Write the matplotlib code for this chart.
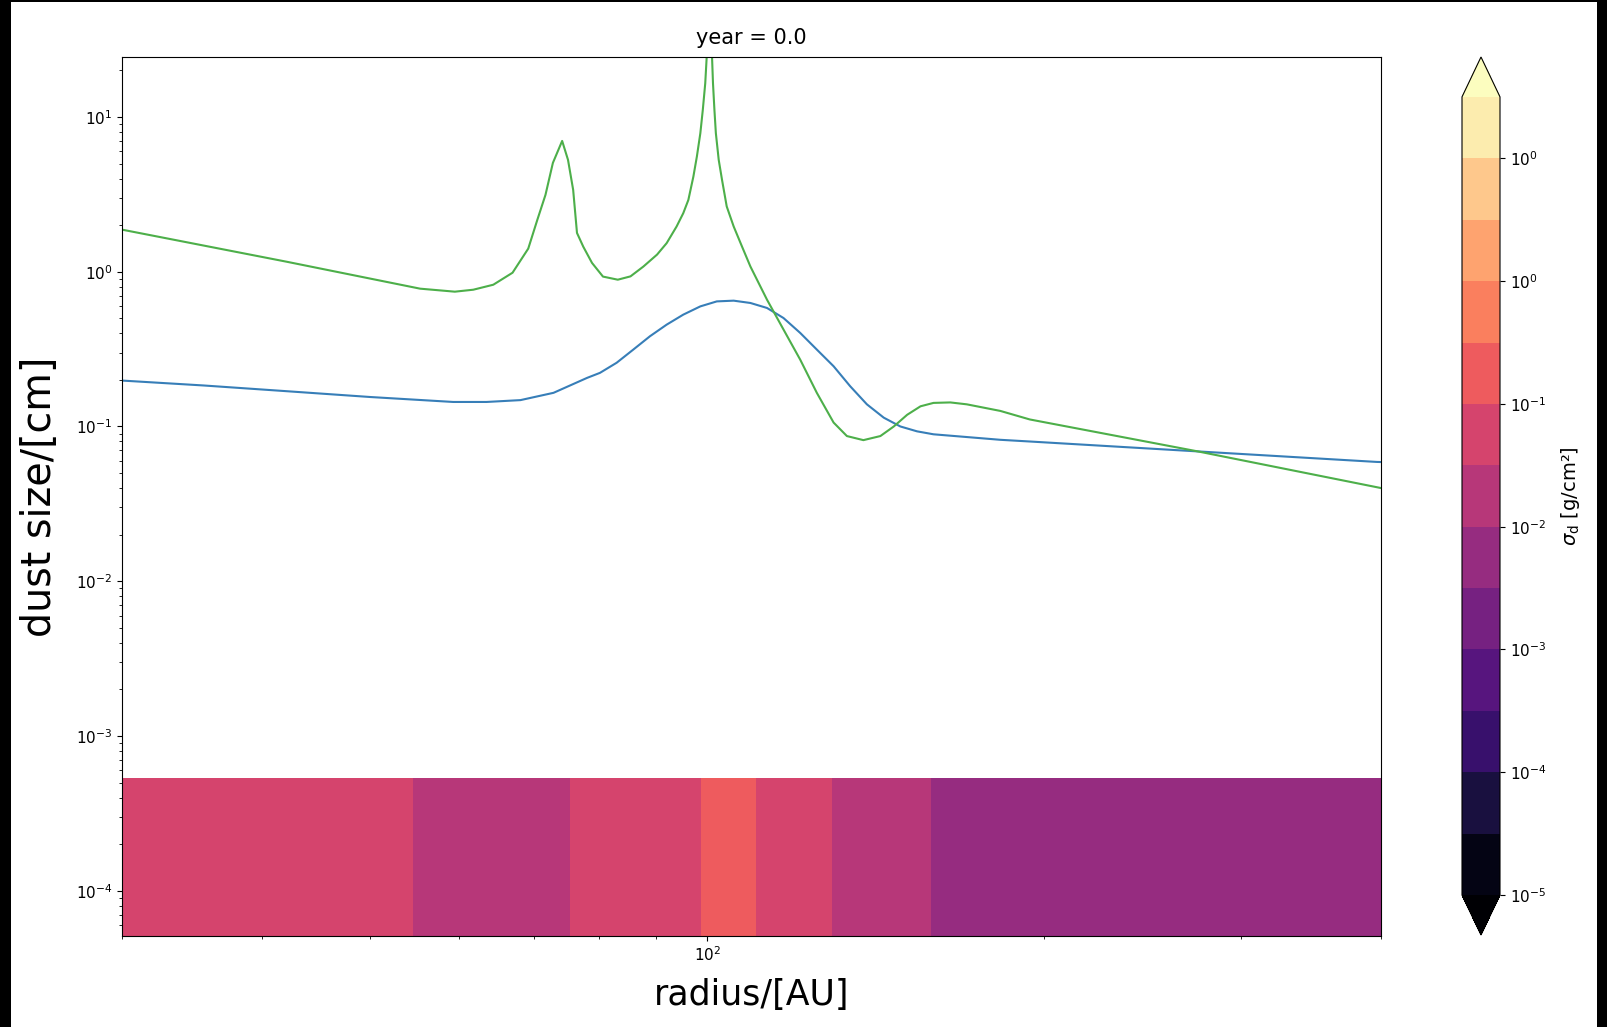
import numpy as np
import matplotlib
matplotlib.use("Agg")
import matplotlib.pyplot as plt
from matplotlib.patches import Rectangle

# ---------------- data ----------------
green_radius = [30, 42.1, 55.4, 59.5, 61.8, 64.4, 67.0, 69.2, 70.5, 71.7, 72.8, 74.2,
                75.1, 75.9, 76.5, 77.5, 78.9, 80.7, 83.2, 85.4, 87.7, 90.2, 92.0, 93.9,
                95.2, 96.2, 97.2, 97.9, 98.6, 99.1, 99.6, 99.9, 100.45, 101.0, 101.2,
                101.5, 101.8, 102.4, 103.1, 104.1, 105.6, 107.4, 109.3, 113.1, 117.0,
                121.1, 125.3, 129.7, 133.3, 137.9, 142.8, 146.8, 150.9, 155.1, 159.3,
                164.9, 170.6, 182.8, 194.2, 274.4, 396.6, 400]
green_size = [1.87, 1.16, 0.777, 0.743, 0.765, 0.824, 0.985, 1.41, 2.16, 3.14, 5.05, 7.0,
              5.28, 3.38, 1.78, 1.45, 1.14, 0.93, 0.888, 0.933, 1.08, 1.29, 1.53, 1.96,
              2.39, 2.91, 4.12, 5.55, 7.85, 11.1, 16.5, 24.5, 80.0, 24.5, 16.5,
              11.1, 7.85, 5.28, 3.92, 2.64, 1.96, 1.46, 1.08, 0.659, 0.423,
              0.270, 0.165, 0.106, 0.0867, 0.0816, 0.0867, 0.100, 0.119, 0.135, 0.142,
              0.143, 0.139, 0.126, 0.111, 0.069, 0.0405, 0.040]

blue_radius = [30, 35.5, 42.1, 50.0, 59.3, 63.5, 68.1, 72.9, 78.1, 80.2, 83.0, 85.9,
               88.9, 92.0, 95.2, 98.6, 102.0, 105.6, 109.3, 113.1, 117.0, 121.1, 125.3,
               129.7, 134.2, 138.9, 143.8, 148.8, 154.0, 159.3, 182.8, 194, 274.4,
               396.6, 400]
blue_size = [0.198, 0.184, 0.169, 0.155, 0.144, 0.144, 0.148, 0.165, 0.206, 0.222, 0.258,
             0.314, 0.383, 0.455, 0.528, 0.597, 0.643, 0.650, 0.628, 0.583, 0.502, 0.402,
             0.314, 0.245, 0.182, 0.139, 0.114, 0.100, 0.093, 0.089, 0.082, 0.080, 0.069,
             0.059, 0.0589]

sigma_radius = [30, 42, 54.6, 65, 75.4, 87, 98.8, 104.5, 110.6, 120, 129.3, 144, 158.6, 250, 400]
log_sigma_dust = [-1.25, -1.35, -1.5, -1.7, -1.5, -1.25, -1.0, -0.8, -1.0, -1.25, -1.5,
                  -1.75, -2.0, -2.2, -2.35]
size_grid = [1e-5, 5.36e-4]

levels = np.linspace(-5, 1.5, 14)
cbar_ticks = [-5, -4, -3, -2, -1, 0, 1]
cbar_ticklabels = [r'$10^{-5}$', r'$10^{-4}$', r'$10^{-3}$', r'$10^{-2}$',
                   r'$10^{-1}$', r'$10^{0}$', r'$10^{0}$']

W, H = 1608, 1027
fig = plt.figure(figsize=(W / 100, H / 100), dpi=100, facecolor='black')
fig.patches.append(Rectangle((11 / W, 0), (1597 - 11) / W, (H - 2) / H,
                             transform=fig.transFigure, facecolor='white',
                             edgecolor='none', zorder=-10))

ax = fig.add_axes([122 / W, (H - 936) / H, (1381 - 122) / W, (936 - 57) / H])
R, A = np.meshgrid(sigma_radius, size_grid)
Z = np.tile(log_sigma_dust, (len(size_grid), 1))
cs = ax.contourf(R, A, Z, levels=levels, cmap='magma', extend='both')

ax.plot(blue_radius, blue_size, color='#377eb8', lw=1.5)
ax.plot(green_radius, green_size, color='#4daf4a', lw=1.5)

ax.set_xscale('log')
ax.set_yscale('log')
ax.set_xlim(30, 400)
ax.set_ylim(5.1e-5, 24.4)
ax.tick_params(axis='both', which='major', labelsize=11)
ax.set_title('year = 0.0', fontsize=15, pad=9.5)
ax.set_xlabel('radius/[AU]', fontsize=25, labelpad=10)
ax.set_ylabel('dust size/[cm]', fontsize=28.5, labelpad=11)

cax = fig.add_axes([1462 / W, (H - 935) / H, 38 / W, (935 - 57) / H])
cb = fig.colorbar(cs, cax=cax)
cb.set_ticks(cbar_ticks)
cb.set_ticklabels(cbar_ticklabels)
cb.ax.tick_params(labelsize=11)
cb.set_label(r'$\sigma_{\rm d}$ [g/cm²]', fontsize=14, labelpad=9)

fig.savefig('out.png', dpi=100)
